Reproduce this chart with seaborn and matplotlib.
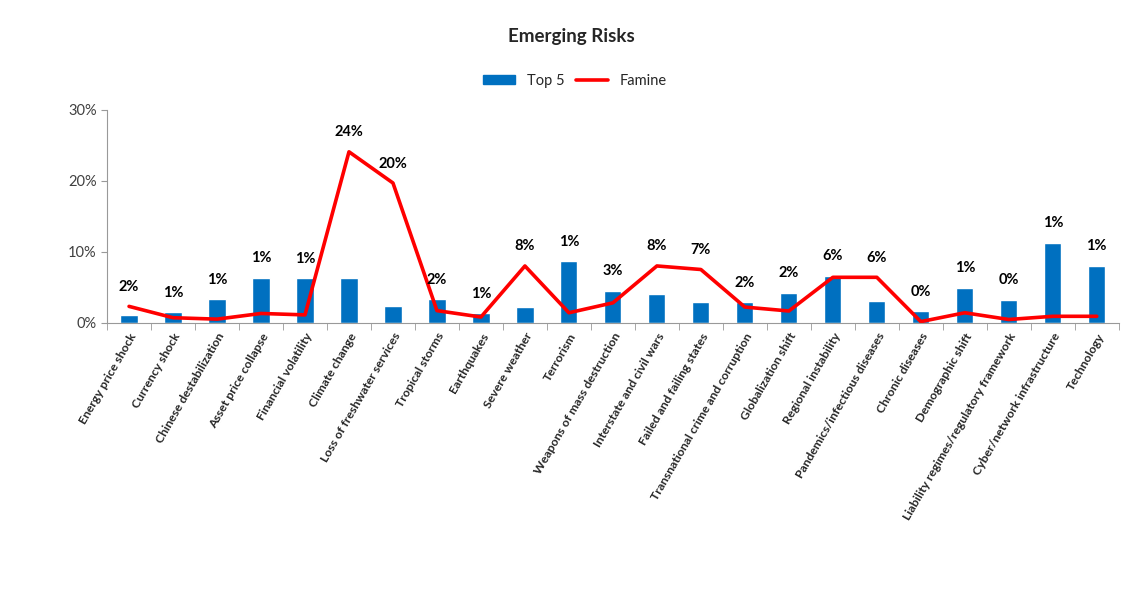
import numpy as np
import pandas as pd
import seaborn as sns
import matplotlib.pyplot as plt
from matplotlib.patches import Patch
from matplotlib.lines import Line2D
from matplotlib.ticker import PercentFormatter, FixedLocator

## Data
risks = ["Energy price shock", "Currency shock", "Chinese destabilization",
         "Asset price collapse", "Financial volatility", "Climate change",
         "Loss of freshwater services", "Tropical storms", "Earthquakes",
         "Severe weather", "Terrorism", "Weapons of mass destruction",
         "Interstate and civil wars", "Failed and failing states",
         "Transnational crime and corruption", "Globalization shift",
         "Regional instability", "Pandemics/infectious diseases",
         "Chronic diseases", "Demographic shift",
         "Liability regimes/regulatory framework",
         "Cyber/network infrastructure", "Technology"]
top5 = [1.1, 1.5, 3.3, 6.35, 6.25, 6.25, 2.3, 3.3, 1.3, 2.2, 8.65, 4.5,
        4.1, 2.9, 2.9, 4.2, 6.6, 3.05, 1.6, 4.95, 3.25, 11.3, 8.0]
famine = [2.3, 0.7, 0.5, 1.3, 1.1, 24.1, 19.7, 1.7, 0.8, 8.0, 1.4, 2.8,
          8.0, 7.5, 2.2, 1.65, 6.4, 6.4, 0.15, 1.4, 0.45, 0.9, 0.9]
labels = ["2%", "1%", "1%", "1%", "1%", "24%", "20%", "2%", "1%", "8%", "1%",
          "3%", "8%", "7%", "2%", "2%", "6%", "6%", "0%", "1%", "0%", "1%", "1%"]

df = pd.DataFrame({"risk": risks, "top5": top5, "famine": famine})

sns.set_style("white")
plt.rcParams["font.family"] = ["Lato", "DejaVu Sans"]

fig = plt.figure(figsize=(11.21, 6.13), dpi=100)
ax = fig.add_axes([0.0955, 0.4736, 0.9025, 0.347])

sns.barplot(data=df, x="risk", y="top5", color="#0070C0", width=0.39,
            saturation=1, ax=ax)
sns.pointplot(data=df, x="risk", y="famine", color="#FF0000", markers="",
              linewidth=2.6, errorbar=None, ax=ax)

# data labels above the higher of bar / line
for i, lab in enumerate(labels):
    ax.annotate(lab, (i, max(top5[i], famine[i])), xytext=(0, 9),
                textcoords="offset points", ha="center", va="bottom",
                fontsize=10.5, fontweight="bold", color="black")

ax.set_ylim(0, 30)
ax.set_xlim(-0.5, len(risks) - 0.5)
ax.yaxis.set_major_locator(FixedLocator([0, 10, 20, 30]))
ax.yaxis.set_major_formatter(PercentFormatter(decimals=0))
ax.set_xlabel("")
ax.set_ylabel("")
ax.tick_params(axis="y", labelsize=10.5, labelcolor="#404040", length=4,
               color="#999999", direction="out", left=True)
ax.set_xticks(range(len(risks)))
ax.set_xticklabels(risks, rotation=60, ha="right", rotation_mode="anchor",
                   fontsize=8.8, fontweight="bold")
ax.tick_params(axis="x", length=0, pad=6)
ax.set_xticks(np.arange(-0.5, len(risks), 1), minor=True)
ax.tick_params(axis="x", which="minor", length=5, color="#999999",
               bottom=True)

for side in ["top", "right"]:
    ax.spines[side].set_visible(False)
ax.spines["left"].set_color("#999999")
ax.spines["bottom"].set_color("#999999")

fig.suptitle("Emerging Risks", x=0.51, y=0.955, fontsize=13.5,
             fontweight="bold")
handles = [Patch(color="#0070C0", label="Top 5"),
           Line2D([0], [0], color="#FF0000", lw=2.6, label="Famine")]
fig.legend(handles=handles, loc="center", bbox_to_anchor=(0.513, 0.868),
           ncol=2, frameon=False, fontsize=10.5, handlelength=2.2,
           handleheight=0.6, columnspacing=0.8, labelcolor="#262626")

fig.savefig("out.png", dpi=100)
